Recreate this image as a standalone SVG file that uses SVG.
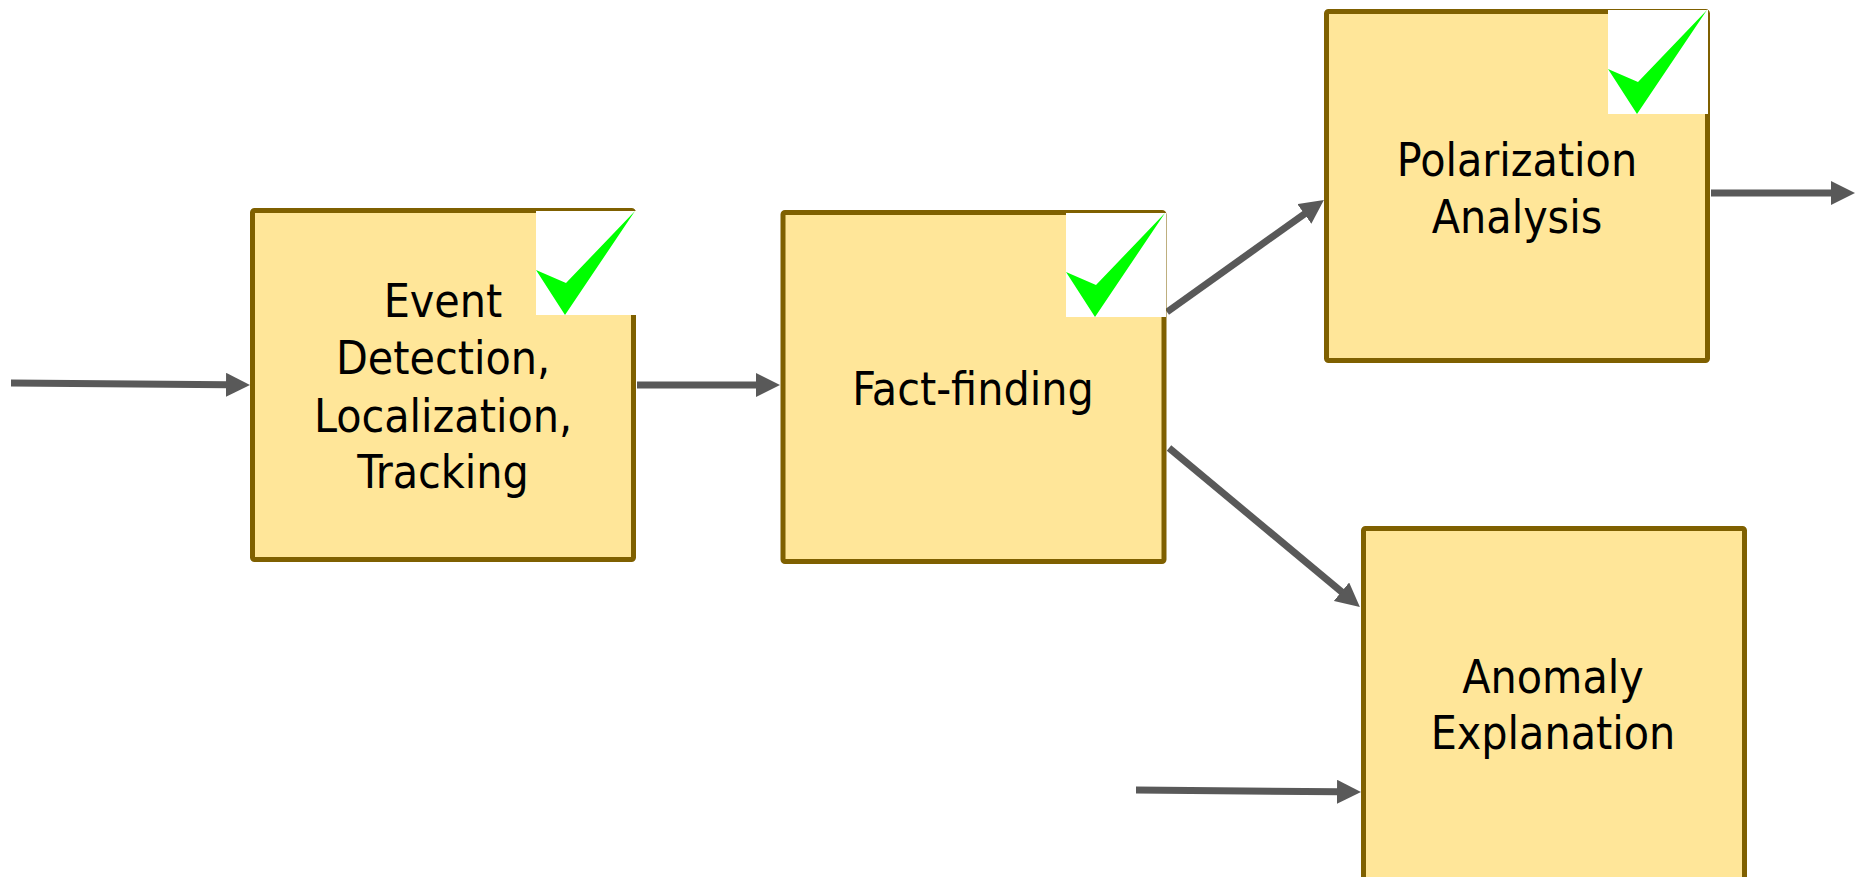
<svg xmlns="http://www.w3.org/2000/svg" xmlns:xlink="http://www.w3.org/1999/xlink" width="1862" height="877" viewBox="0 0 1862 877">
<style>
.box{fill:#FFE699;stroke:#7F6000;stroke-width:5;}
.lbl{font-family:"DejaVu Sans Condensed","DejaVu Sans",sans-serif;font-stretch:condensed;font-size:46px;fill:#000;text-anchor:middle;}
.conn{stroke:#595959;stroke-width:7;fill:none;marker-end:url(#ah);}
</style>
<defs>
<marker id="ah" markerUnits="userSpaceOnUse" markerWidth="24" markerHeight="24" viewBox="0 0 24 24" refX="2" refY="12" orient="auto">
<path d="M0,0 L24,12 L0,24 Z" fill="#595959"/>
</marker>
<g id="check">
<rect x="0" y="0" width="100" height="104" fill="#FFFFFF"/>
<polygon points="0,59 30,72 99,0 29,104" fill="#00FF00"/>
</g>
</defs>
<g id="connectors">
<line class="conn" x1="11" y1="383" x2="228" y2="384.8"/>
<line class="conn" x1="637" y1="385" x2="758" y2="385"/>
<line class="conn" x1="1167" y1="312" x2="1306" y2="212.8"/>
<line class="conn" x1="1169" y1="448" x2="1343" y2="593"/>
<line class="conn" x1="1711" y1="193" x2="1833" y2="193"/>
<line class="conn" x1="1136" y1="790" x2="1339" y2="791.8"/>
</g>
<g id="node-event">
<rect class="box" x="252.5" y="210.5" width="381" height="349" rx="2"/>
<use xlink:href="#check" x="536" y="211"/>
<text class="lbl" x="443"><tspan x="443" y="317">Event</tspan><tspan x="443" y="374">Detection,</tspan><tspan x="443" y="432">Localization,</tspan><tspan x="443" y="488">Tracking</tspan></text>
</g>
<g id="node-fact">
<rect class="box" x="783" y="212.5" width="381" height="349" rx="2"/>
<use xlink:href="#check" x="1066" y="213"/>
<text class="lbl" x="973" y="405">Fact-finding</text>
</g>
<g id="node-polar">
<rect class="box" x="1326.5" y="11.5" width="381" height="349" rx="2"/>
<use xlink:href="#check" x="1608" y="10"/>
<text class="lbl" x="1517"><tspan x="1517" y="176">Polarization</tspan><tspan x="1517" y="233">Analysis</tspan></text>
</g>
<g id="node-anomaly">
<rect class="box" x="1363.5" y="528.5" width="381" height="370" rx="2"/>
<text class="lbl" x="1553"><tspan x="1553" y="693">Anomaly</tspan><tspan x="1553" y="749">Explanation</tspan></text>
</g>
</svg>
